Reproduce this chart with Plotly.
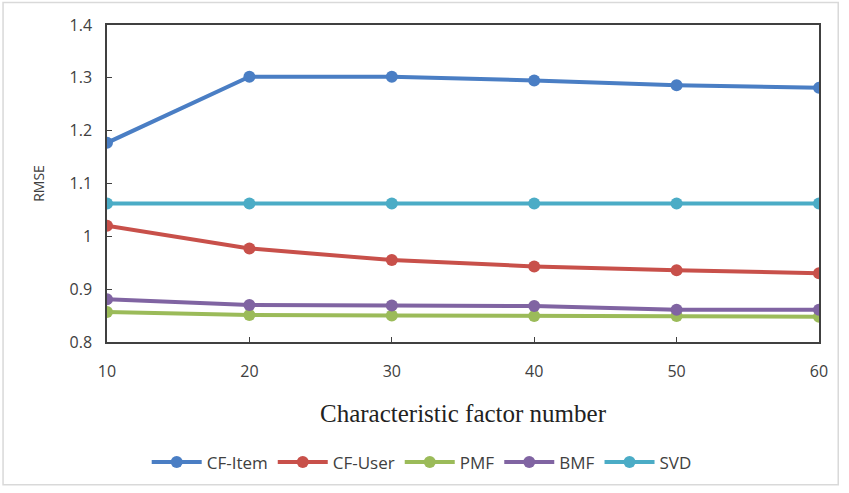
import plotly.graph_objects as go

factors = [10, 20, 30, 40, 50, 60]
cf_item = [1.177, 1.302, 1.302, 1.295, 1.286, 1.281]
cf_user = [1.020, 0.977, 0.955, 0.943, 0.936, 0.930]
pmf = [0.857, 0.851, 0.850, 0.849, 0.849, 0.848]
bmf = [0.881, 0.870, 0.869, 0.868, 0.861, 0.861]
svd = [1.062, 1.062, 1.062, 1.062, 1.062, 1.062]

series = [
    ("CF-Item", cf_item, "#4A7EC4"),
    ("CF-User", cf_user, "#C8504A"),
    ("PMF", pmf, "#9BBB59"),
    ("BMF", bmf, "#8064A2"),
    ("SVD", svd, "#4BACC6"),
]

fig = go.Figure()
for name, vals, col in series:
    fig.add_trace(go.Scatter(
        x=factors, y=vals, name=name, mode="lines+markers",
        line=dict(color=col, width=4),
        marker=dict(color=col, size=12),
    ))

fig.update_layout(
    width=849, height=493,
    margin=dict(l=107, r=30, t=25, b=146),
    paper_bgcolor="white", plot_bgcolor="white",
    font=dict(family="Open Sans, Liberation Sans, sans-serif", color="#404040", size=15),
    showlegend=True,
    legend=dict(orientation="h", x=0.442, xanchor="center", y=-0.38, yanchor="middle",
                font=dict(size=17, color="#404040"), itemwidth=50,
                tracegroupgap=0),
    xaxis=dict(
        range=[10, 60], tickvals=factors, ticks="inside", ticklen=5,
        tickcolor="#404040", showline=True, linecolor="#404040", linewidth=1.5,
        mirror=True, showgrid=False, zeroline=False, ticklabelstandoff=14,
        tickfont=dict(size=16),
        title=dict(text="Characteristic factor number",
                   font=dict(family="Liberation Serif, Times New Roman, serif", size=25, color="#222222"),
                   standoff=24),
    ),
    yaxis=dict(
        range=[0.8, 1.4], tickvals=[0.8, 0.9, 1.0, 1.1, 1.2, 1.3, 1.4],
        ticktext=["0.8", "0.9", "1", "1.1", "1.2", "1.3", "1.4"],
        ticks="inside", ticklen=5, tickcolor="#404040",
        showline=True, linecolor="#404040", linewidth=1.5, mirror=True,
        showgrid=False, zeroline=False, ticklabelstandoff=10,
        tickfont=dict(size=16),
        title=dict(text="RMSE", font=dict(size=14, color="#404040"), standoff=22),
    ),
)

fig.add_shape(type="rect", xref="paper", yref="paper",
              x0=-0.146, x1=1.027, y0=-0.45, y1=1.071,
              line=dict(color="#D9D9D9", width=1.5), layer="below")

fig.write_html("out.html")
